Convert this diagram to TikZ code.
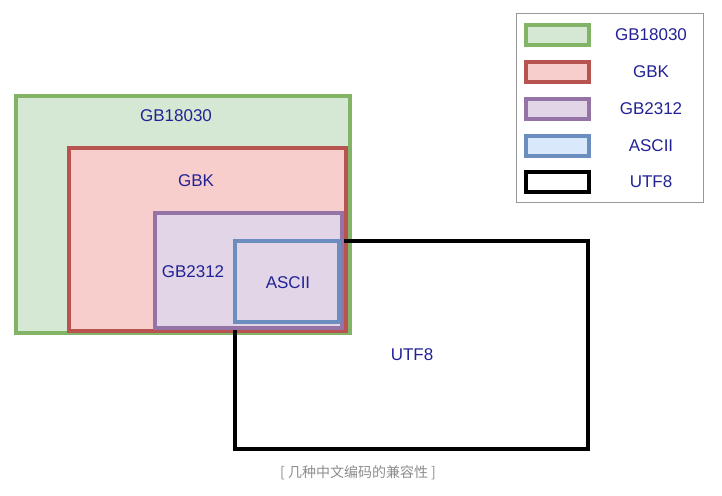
\documentclass[tikz,border=0pt]{standalone}
\usepackage{fontspec}
\setmainfont{Liberation Sans}
\newfontfamily\cjk{Noto Sans CJK SC}
\usetikzlibrary{positioning}
\definecolor{txtblue}{RGB}{34,34,150}
\definecolor{gbgreen}{HTML}{82B366}
\definecolor{gbgreenfill}{HTML}{D5E8D4}
\definecolor{gbred}{HTML}{B85450}
\definecolor{gbredfill}{HTML}{F8CECC}
\definecolor{gbpurple}{HTML}{9673A6}
\definecolor{gbpurplefill}{HTML}{E1D5E7}
\definecolor{gbblue}{HTML}{6C8EBF}
\definecolor{gbbluefill}{HTML}{DAE8FC}

\begin{document}
\begin{tikzpicture}[
    x=1pt,y=-1pt,
    set/.style={rectangle,inner sep=0pt,line width=4pt},
    swatch/.style={set,minimum width=63pt,minimum height=20pt},
    lbl/.style={text=txtblue,font=\fontsize{17}{17}\selectfont,inner sep=0pt}]
    \useasboundingbox (0,0) rectangle (722,495);
    % the sets
    \node[set,draw=gbgreen,fill=gbgreenfill,minimum width=334pt,minimum height=237pt] (S18030) at (183,214.5) {};
    \node[set,draw=gbred,fill=gbredfill,minimum width=277pt,minimum height=183pt] (SGBK) at (207.5,239.5) {};
    \node[set,draw=black,minimum width=353pt,minimum height=208pt] (SUTF) at (411.5,345) {};
    \node[set,draw=gbpurple,fill=gbpurplefill,minimum width=187pt,minimum height=115pt] (S2312) at (248.5,270.5) {};
    \node[set,draw=gbblue,minimum width=104pt,minimum height=81pt] (SASCII) at (287,281.5) {};

    \node[lbl] (L18030) at (176,116) {GB18030};
    \node[lbl] (LGBK) at (196,181) {GBK};
    \node[lbl] (L2312) at (193,272) {GB2312};
    \node[lbl] (LASCII) at (288,283) {ASCII};
    \node[lbl] (LUTF) at (412,355) {UTF8};

    % legend
    \node[draw=gray!80,line width=1pt,rectangle,minimum width=187pt,minimum height=188pt] (legend) at (609.5,108) {};
    \node[swatch,draw=gbgreen,fill=gbgreenfill] (K18030) at (557.5,35) {};
    \node[swatch,draw=gbred,fill=gbredfill] (KGBK) [below=13pt of K18030] {};
    \node[swatch,draw=gbpurple,fill=gbpurplefill] (K2312) [below=13pt of KGBK] {};
    \node[swatch,draw=gbblue,fill=gbbluefill] (KASCII) [below=13pt of K2312] {};
    \node[swatch,draw=black,fill=white] (KUTF) [below=12pt of KASCII] {};
    \node[lbl] at (651,35) (T18030) {GB18030};
    \node[lbl] at (651,72) (TGBK) {GBK};
    \node[lbl] at (651,109) (T2312) {GB2312};
    \node[lbl] at (651,146) (TASCII) {ASCII};
    \node[lbl] at (651,182) (TUTF) {UTF8};

    % caption
    \node[text=gray!90,font=\cjk\fontsize{14}{14}\selectfont] (caption) at (358,473) {[ 几种中文编码的兼容性 ]};
  \end{tikzpicture}
\end{document}
